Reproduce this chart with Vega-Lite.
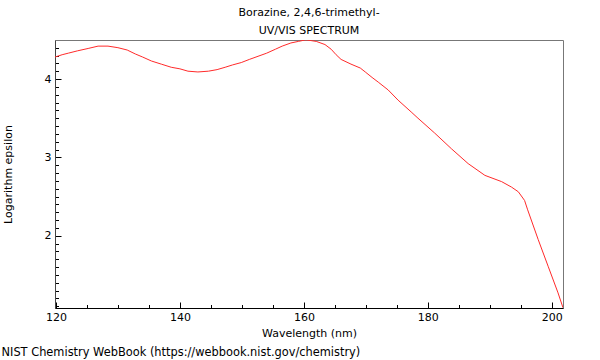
{
  "$schema": "https://vega.github.io/schema/vega-lite/v6.json",
  "padding": {"left": 1, "top": 6, "right": 35, "bottom": 5},
  "background": "white",
  "config": {
    "view": {"stroke": "#777", "strokeWidth": 1},
    "font": "DejaVu Sans",
    "axis": {"labelFont": "DejaVu Sans", "titleFont": "DejaVu Sans", "labelColor": "black", "titleColor": "black", "labelFontSize": 11, "titleFontSize": 11, "titleFontWeight": "normal"}
  },
  "title": {
    "text": "NIST Chemistry WebBook (https://webbook.nist.gov/chemistry)",
    "orient": "bottom",
    "anchor": "start",
    "fontSize": 11.4,
    "fontWeight": "normal",
    "font": "DejaVu Sans",
    "color": "black",
    "offset": 8,
    "dx": 0
  },
  "vconcat": [
    {
      "width": 508,
      "height": 268,
      "title": {
        "text": ["Borazine, 2,4,6-trimethyl-", "UV/VIS SPECTRUM"],
        "fontSize": 11,
        "fontWeight": "normal",
        "font": "DejaVu Sans",
        "color": "black",
        "anchor": "middle",
        "lineHeight": 18,
        "offset": 4
      },
      "data": {
        "values": [
          {"wl": 119.85, "loge": 4.28},
          {"wl": 121.0, "loge": 4.31},
          {"wl": 122.0, "loge": 4.33},
          {"wl": 123.5, "loge": 4.36},
          {"wl": 125.2, "loge": 4.39},
          {"wl": 126.8, "loge": 4.42},
          {"wl": 128.4, "loge": 4.42},
          {"wl": 130.0, "loge": 4.40},
          {"wl": 131.5, "loge": 4.37},
          {"wl": 132.8, "loge": 4.32},
          {"wl": 134.0, "loge": 4.28},
          {"wl": 135.4, "loge": 4.23},
          {"wl": 137.0, "loge": 4.19},
          {"wl": 138.6, "loge": 4.15},
          {"wl": 140.0, "loge": 4.13},
          {"wl": 141.3, "loge": 4.10},
          {"wl": 142.9, "loge": 4.09},
          {"wl": 144.6, "loge": 4.10},
          {"wl": 146.0, "loge": 4.12},
          {"wl": 147.3, "loge": 4.15},
          {"wl": 148.5, "loge": 4.18},
          {"wl": 149.9, "loge": 4.21},
          {"wl": 151.2, "loge": 4.25},
          {"wl": 152.6, "loge": 4.29},
          {"wl": 154.0, "loge": 4.33},
          {"wl": 155.4, "loge": 4.38},
          {"wl": 156.5, "loge": 4.42},
          {"wl": 157.9, "loge": 4.46},
          {"wl": 159.1, "loge": 4.48},
          {"wl": 160.3, "loge": 4.50},
          {"wl": 161.2, "loge": 4.49},
          {"wl": 162.0, "loge": 4.48},
          {"wl": 163.4, "loge": 4.44},
          {"wl": 164.4, "loge": 4.38},
          {"wl": 165.2, "loge": 4.31},
          {"wl": 166.0, "loge": 4.25},
          {"wl": 167.6, "loge": 4.19},
          {"wl": 169.1, "loge": 4.14},
          {"wl": 169.9, "loge": 4.09},
          {"wl": 171.0, "loge": 4.02},
          {"wl": 172.0, "loge": 3.96},
          {"wl": 173.6, "loge": 3.86},
          {"wl": 175.2, "loge": 3.73},
          {"wl": 177.3, "loge": 3.58},
          {"wl": 178.4, "loge": 3.50},
          {"wl": 181.1, "loge": 3.31},
          {"wl": 183.8, "loge": 3.11},
          {"wl": 186.5, "loge": 2.92},
          {"wl": 189.2, "loge": 2.77},
          {"wl": 191.9, "loge": 2.69},
          {"wl": 193.5, "loge": 2.62},
          {"wl": 194.6, "loge": 2.56},
          {"wl": 195.6, "loge": 2.45},
          {"wl": 196.1, "loge": 2.33},
          {"wl": 197.8, "loge": 1.95},
          {"wl": 199.4, "loge": 1.61},
          {"wl": 201.0, "loge": 1.27},
          {"wl": 201.8, "loge": 1.08}
        ]
      },
      "mark": {"type": "line", "color": "#ff2a2a", "strokeWidth": 1, "clip": true},
      "encoding": {
        "x": {"field": "wl", "type": "quantitative", "scale": {"domain": [119.85, 201.8], "nice": false, "zero": false},
          "axis": {"orient": "bottom", "grid": false, "format": ".0f",
            "values": [120, 125, 130, 135, 140, 145, 150, 155, 160, 165, 170, 175, 180, 185, 190, 195, 200],
            "tickSize": {"condition": {"test": "datum.value % 20 === 0", "value": -6}, "value": -3.5},
            "tickColor": "black", "tickWidth": 1, "domainColor": "black",
            "labelExpr": "datum.value % 20 === 0 ? datum.label : ''",
            "labelOverlap": false, "labelFlush": false, "labelPadding": 9,
            "title": "Wavelength (nm)", "titlePadding": 3}},
        "y": {"field": "loge", "type": "quantitative", "scale": {"domain": [1.077, 4.498], "nice": false, "zero": false},
          "axis": {"orient": "left", "grid": false, "format": ".0f",
            "values": [1.1, 1.2, 1.3, 1.4, 1.5, 1.6, 1.7, 1.8, 1.9, 2, 2.1, 2.2, 2.3, 2.4, 2.5, 2.6, 2.7, 2.8, 2.9, 3, 3.1, 3.2, 3.3, 3.4, 3.5, 3.6, 3.7, 3.8, 3.9, 4, 4.1, 4.2, 4.3, 4.4],
            "tickSize": {"condition": {"test": "abs(datum.value - round(datum.value)) < 0.001", "value": -6}, "value": -3.5},
            "tickColor": "black", "tickWidth": 1, "domainColor": "#444",
            "labelExpr": "abs(datum.value - round(datum.value)) < 0.001 ? datum.label : ''",
            "labelOverlap": false, "labelFlush": false, "labelPadding": 10,
            "title": "Logarithm epsilon", "titlePadding": 31}}
      }
    }
  ]
}
